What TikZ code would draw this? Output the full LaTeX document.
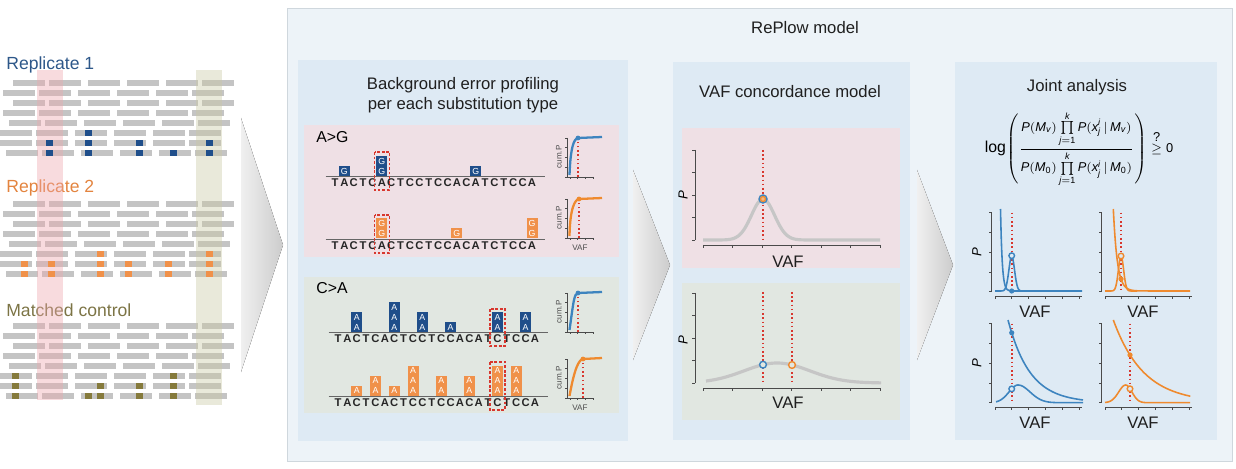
\documentclass[tikz,border=0pt]{standalone}
\usepackage{amsmath}
\usepackage{fontspec}
\setmainfont{Liberation Sans}
\usetikzlibrary{calc}

\definecolor{repblue}{HTML}{2D5789}
\definecolor{reporange}{HTML}{E3843F}
\definecolor{ctrlolive}{HTML}{7C7445}
\definecolor{boxblue}{HTML}{1F4E8A}
\definecolor{boxorange}{HTML}{F0914A}
\definecolor{boxolive}{HTML}{857A3C}
\definecolor{readgray}{HTML}{C4C4C4}
\definecolor{stripepink}{HTML}{EDA6AD}
\definecolor{stripeolive}{HTML}{C9C7A3}
\definecolor{lineblue}{HTML}{3D84BF}
\definecolor{lineorange}{HTML}{EF8A2E}
\definecolor{dotred}{HTML}{D8372E}
\definecolor{curvegray}{HTML}{C6C6C6}
\definecolor{outerbg}{HTML}{EDF3F8}
\definecolor{outerline}{HTML}{CFD7DD}
\definecolor{panelbg}{HTML}{DEEAF4}
\definecolor{pinkbg}{HTML}{EFE0E5}
\definecolor{greenbg}{HTML}{E1E7E1}
\definecolor{axisgray}{HTML}{4A4A4A}

\tikzset{
  axisln/.style={draw=axisgray, line width=0.45pt},
  reddot/.style={draw=dotred, line width=0.9pt, dash pattern=on 0.9pt off 1.5pt},
  redbox/.style={draw=dotred, line width=0.6pt, dash pattern=on 1.6pt off 1pt},
  heading/.style={font=\fontsize{9.5}{11.5}\selectfont, text=black!88, align=center, inner sep=0pt},
  replabel/.style={font=\fontsize{10}{12}\selectfont, anchor=west, inner sep=0pt},
  sublab/.style={font=\fontsize{9}{11}\selectfont, anchor=west, inner sep=0pt},
  base/.style={font=\bfseries\fontsize{6.4}{7}\selectfont, text=black!85, inner sep=0pt},
  cell/.style={font=\fontsize{5}{6}\selectfont, text=white, inner sep=0pt},
  tinylab/.style={font=\fontsize{4.6}{5}\selectfont, text=black!70, inner sep=0pt},
  axlab/.style={font=\fontsize{9.5}{11}\selectfont, text=black!88, inner sep=0pt},
  plab/.style={font=\itshape\fontsize{7.5}{9}\selectfont, rotate=90, inner sep=0pt},
  chevron/.style={left color=black!6, right color=black!20},
  jcurve/.style={line width=0.9pt},
}

% one row of reads: start x, centre y
\def\readrow(#1,#2){\foreach \bx in {0,36,75,114,153,189}
  \fill[readgray] ({#1+\bx},{#2-3}) rectangle ++(32,6);}
% eight rows of reads below top centre y
\def\readblock(#1){\foreach \st [count=\rw from 0] in {13,3,13,3,9,0,0,6}
  \readrow(\st,{#1+10*\rw});}
% variant base on a read
\def\varmark[#1](#2,#3){\fill[#1] ({#2-3.5},{#3-3}) rectangle ++(7,6);}
% stack of substituted bases: x, base y, count, letter, colour, name
\def\basestack(#1,#2)#3#4#5#6{\fill[#5] ({#1-5.5},#2) rectangle ({#1+5.5},{#2-10*#3});
  \foreach \k in {1,...,#3} \node[cell] (#6-\k) at (#1,{#2-10*\k+5}) {#4};}
% reference sequence with rule
\def\seqline(#1,#2)#3{\draw[black!60, line width=0.7pt] ({#1-9.5},{#2-6.3}) -- ({#1+210},{#2-6.3});
  \foreach \ch [count=\ix from 0] in {T,A,C,T,C,A,C,T,C,C,T,C,C,A,C,A,T,C,T,C,C,A}
    \node[base] (#3-\ix) at ({#1+9.38*\ix},#2) {\ch};}
% small cumulative plot: bottom y, colour, dot x, bend, name
\def\cumplot(#1)#2#3#4#5{%
  \draw[axisln] (567,{#1-39}) -- (567,#1) -- (593,#1);
  \foreach \tk in {0,...,4} \draw[axisln] (567,{#1-9.75*\tk}) -- (565,{#1-9.75*\tk});
  \foreach \tk in {0,...,3} \draw[axisln] ({570+7.7*\tk},#1) -- ({570+7.7*\tk},{#1+2});
  \draw[reddot] (#3,#1) -- (#3,{#1-39});
  \draw[#2, line width=1.3pt] (569.5,{#1-2}) .. controls ({569.5+#4},{#1-30}) and ({#3-4},{#1-38.5}) .. (#3,{#1-39}) -- (602,{#1-40});
  \fill[#2] (#3,{#1-39}) circle (2.4);
  \node[tinylab, rotate=90] (#5) at (559,{#1-20}) {cum.P};}
% axes of the concordance plots: bottom y
\def\vafaxes(#1){\draw[axisln] (695,{#1-90}) -- (695,#1);
  \foreach \tk in {0,...,4} \draw[axisln] (695,{#1-22.5*\tk}) -- (692,{#1-22.5*\tk});
  \draw[axisln] (703,{#1+5}) -- (880,{#1+5});
  \foreach \tk in {0,...,6} \draw[axisln] ({703+29.5*\tk},{#1+5}) -- ({703+29.5*\tk},{#1+8});}
% axes of the joint plots: y axis x, bottom y
\def\jointaxes(#1,#2){\draw[axisln] (#1,{#2-79}) -- (#1,#2);
  \foreach \tk in {0,...,4} \draw[axisln] (#1,{#2-19.75*\tk}) -- ({#1-2.5},{#2-19.75*\tk});
  \draw[axisln] ({#1+3.3},{#2+4.5}) -- ({#1+90},{#2+4.5});
  \foreach \tk in {0,...,5} \draw[axisln] ({#1+3.3+16.8*\tk},{#2+4.5}) -- ({#1+3.3+16.8*\tk},{#2+7});}
\newcommand{\vt}[1]{\mathit{#1}}
\newcommand{\prodjk}{\prod\limits_{\vt{j}=\mathrm{1}}^{\vt{k}}}

\begin{document}
\begin{tikzpicture}[x=0.02cm, y=-0.02cm]
  %%%%% START %%%%%
  \useasboundingbox (0,0) rectangle (1236,469);

  % reads of the three samples
  \node[replabel, text=repblue] (rep1) at (6,64.5) {Replicate 1};
  \node[replabel, text=reporange] (rep2) at (6,188) {Replicate 2};
  \node[replabel, text=ctrlolive] (ctrl) at (6,310) {Matched control};

  \readblock(83)
  \readblock(204.5)
  \readblock(326)

  \fill[stripepink, opacity=0.4] (37,70) rectangle (63,400);
  \fill[stripeolive, opacity=0.4] (196,70) rectangle (222,405);

  \varmark[boxblue](88,133)
  \foreach \mx in {49,88,139,209} \varmark[boxblue](\mx,143);
  \foreach \mx in {49,88,139,173,209} \varmark[boxblue](\mx,153);
  \foreach \mx in {100,209} \varmark[boxorange](\mx,254.5);
  \foreach \mx in {24,51,100,128,168,209} \varmark[boxorange](\mx,264.5);
  \foreach \mx in {24,51,100,128,168,209} \varmark[boxorange](\mx,274.5);
  \foreach \mx in {15,173} \varmark[boxolive](\mx,376);
  \foreach \mx in {15,100,139,173} \varmark[boxolive](\mx,386);
  \foreach \mx in {15,88,100,139,173} \varmark[boxolive](\mx,396);

  \fill[chevron] (241,118) -- (283,245) -- (241,372) -- cycle;

  % model panel
  \draw[outerline, fill=outerbg, line width=0.5pt] (287,8) rectangle (1232,461);
  \node[heading] (title) at (805,28) {RePlow model};

  \fill[panelbg] (298,60) rectangle (628,441);
  \fill[panelbg] (673,62) rectangle (910,440);
  \fill[panelbg] (955,62) rectangle (1217,440);
  \fill[chevron] (633,170) -- (670,265) -- (633,360) -- cycle;
  \fill[chevron] (917,170) -- (953,265) -- (917,360) -- cycle;

  \node[heading] (bgt) at (463,95) {Background error profiling\\per each substitution type};
  \node[heading] (vaft) at (790,92) {VAF concordance model};
  \node[heading] (jat) at (1077,87) {Joint analysis};

  % background error profiling
  \fill[pinkbg] (304,125) rectangle (619,257);
  \fill[greenbg] (304,277) rectangle (619,413);
  \node[sublab] (ag) at (316,137.5) {A>G};
  \node[sublab] (ca) at (316,288) {C>A};

  \seqline(335,183){ags1}
  \seqline(335,246){ags2}
  \basestack(344.4,176){1}{G}{boxblue}{ag1a}
  \basestack(381.9,176){2}{G}{boxblue}{ag1b}
  \basestack(475.7,176){1}{G}{boxblue}{ag1c}
  \basestack(381.9,238){2}{G}{boxorange}{ag2a}
  \basestack(456.9,238){1}{G}{boxorange}{ag2b}
  \basestack(532.0,238){2}{G}{boxorange}{ag2c}
  \draw[redbox] (374.5,152) rectangle (389.5,190);
  \draw[redbox] (374.5,215) rectangle (389.5,253);

  \seqline(338,339){cas1}
  \seqline(338,402.5){cas2}
  \basestack(356.8,332){2}{A}{boxblue}{ca1a}
  \basestack(394.3,332){3}{A}{boxblue}{ca1b}
  \basestack(422.4,332){2}{A}{boxblue}{ca1c}
  \basestack(450.6,332){1}{A}{boxblue}{ca1d}
  \basestack(497.5,332){2}{A}{boxblue}{ca1e}
  \basestack(525.6,332){2}{A}{boxblue}{ca1f}
  \basestack(356.8,395.5){1}{A}{boxorange}{ca2a}
  \basestack(375.5,395.5){2}{A}{boxorange}{ca2b}
  \basestack(394.3,395.5){1}{A}{boxorange}{ca2c}
  \basestack(413.0,395.5){3}{A}{boxorange}{ca2d}
  \basestack(441.2,395.5){2}{A}{boxorange}{ca2e}
  \basestack(469.3,395.5){2}{A}{boxorange}{ca2f}
  \basestack(497.5,395.5){3}{A}{boxorange}{ca2g}
  \basestack(516.2,395.5){3}{A}{boxorange}{ca2h}
  \draw[redbox] (490,309) rectangle (505,346);
  \draw[redbox] (490,362) rectangle (505,410);

  \cumplot(177){lineblue}{578}{1}{cp1}
  \cumplot(238){lineorange}{579}{0.5}{cp2}
  \cumplot(332){lineblue}{578}{4}{cp3}
  \cumplot(398){lineorange}{583}{5}{cp4}
  \node[tinylab] (cpv1) at (580,248) {VAF};
  \node[tinylab] (cpv2) at (580,408) {VAF};

  % VAF concordance model
  \fill[pinkbg] (682,128) rectangle (900,268);
  \fill[greenbg] (682,283) rectangle (900,420);
  \vafaxes(240)
  \vafaxes(383)
  \node[plab] (vp1) at (683,195) {P};
  \node[plab] (vp2) at (683,340) {P};
  \node[axlab] (vx1) at (788,262) {VAF};
  \node[axlab] (vx2) at (788,403) {VAF};
  \draw[reddot] (763,150) -- (763,240);
  \draw[reddot] (763,292) -- (763,383);
  \draw[reddot] (792,292) -- (792,383);
  \draw[curvegray, line width=1.8pt] plot[domain=-60:117, samples=100] ({763+\x},{240-41*exp(-(\x*\x)/264.5)});
  \draw[curvegray, line width=1.8pt] plot[domain=-71:104, samples=80] ({777+\x},{383-20*exp(-(\x*\x)/2178)});
  \draw[lineblue, line width=0.8pt, fill=lineorange!60] (763,199) circle (4);
  \draw[lineorange, line width=0.7pt] (763,199) circle (2.5);
  \draw[lineblue, line width=0.8pt, fill=greenbg] (763,364.7) circle (3.4);
  \draw[lineorange, line width=0.8pt, fill=greenbg] (792,365) circle (3.4);

  % joint analysis
  \node[font=\fontsize{7.3}{8.5}\selectfont, inner sep=0pt] (lik) at (1079,149)
    {$\mbox{\fontsize{9}{10}\selectfont log}\!\left(\dfrac{\vt{P}(\vt{M}_{\vt{v}})\prodjk\vt{P}(\vt{x}_{\vt{j}}^{\vt{i}}\,|\,\vt{M}_{\vt{v}})}{\vt{P}(\vt{M}_{\mathrm{0}})\prodjk\vt{P}(\vt{x}_{\vt{j}}^{\vt{i}}\,|\,\vt{M}_{\mathrm{0}})}\right)\stackrel{\mbox{?}}{\geq}\mathrm{0}$};

  \jointaxes(991.7,291.7)
  \jointaxes(1101.7,291.7)
  \jointaxes(991.7,402.7)
  \jointaxes(1101.7,402.7)
  \node[plab] (jp1) at (976.7,251.7) {P};
  \node[plab] (jp2) at (976.7,363.3) {P};
  \node[axlab] (jx1) at (1035,311.7) {VAF};
  \node[axlab] (jx2) at (1143,311.7) {VAF};
  \node[axlab] (jx3) at (1035,423) {VAF};
  \node[axlab] (jx4) at (1143,423) {VAF};
  \draw[reddot] (1011.7,212.7) -- (1011.7,291.7);
  \draw[reddot] (1121,212.7) -- (1121,291.7);
  \draw[reddot] (1011.7,323.7) -- (1011.7,402.7);
  \draw[reddot] (1130,323.7) -- (1130,402.7);

  \draw[lineblue, jcurve] plot[domain=0:20, samples=60] ({1000.5+\x},{291-82*exp(-\x/1.7)}) -- (1082,291);
  \draw[lineblue, jcurve] plot[domain=-16.7:16, samples=60] ({1011.7+\x},{291-35*exp(-(\x*\x)/15.7)});
  \fill[lineblue] (1011.7,291) circle (2.6);
  \draw[lineblue, line width=0.8pt, fill=panelbg] (1011.7,255.7) circle (2.8);

  \draw[lineorange, jcurve] plot[domain=0:30, samples=60] ({1113.3+\x},{291-82*exp(-\x/4)}) -- (1190,291);
  \draw[lineorange, jcurve] plot[domain=-16:16, samples=60] ({1121+\x},{291-35*exp(-(\x*\x)/13.5)});
  \fill[lineorange] (1121,279) circle (2.6);
  \draw[lineorange, line width=0.8pt, fill=panelbg] (1121,256) circle (2.8);

  \draw[lineblue, jcurve] plot[domain=0:75, samples=70] ({1008+\x},{402.7-82.7*exp(-\x/22)});
  \draw[lineblue, jcurve] plot[domain=-22:0, samples=30] ({1018+\x},{402.7-17.7*exp(-(\x*\x)/162)})
    -- plot[domain=0:65, samples=50] ({1018+\x},{402.7-17.7*exp(-(\x*\x)/288)});
  \fill[lineblue] (1011.7,332.8) circle (2.6);
  \draw[lineblue, line width=0.8pt, fill=panelbg] (1011.7,388.9) circle (2.8);

  \draw[lineorange, jcurve] plot[domain=0:77, samples=70] ({1113.3+\x},{402.7-82.7*exp(-\x/30.3)});
  \draw[lineorange, jcurve] plot[domain=-20.7:0, samples=30] ({1125.7+\x},{402.7-17.7*exp(-(\x*\x)/98)})
    -- plot[domain=0:64.3, samples=50] ({1125.7+\x},{402.7-17.7*exp(-(\x*\x)/76.9)});
  \fill[lineorange] (1130,355) circle (2.6);
  \draw[lineorange, line width=0.8pt, fill=panelbg] (1130,388.8) circle (2.8);

  %%%%% END %%%%%
\end{tikzpicture}
\end{document}
